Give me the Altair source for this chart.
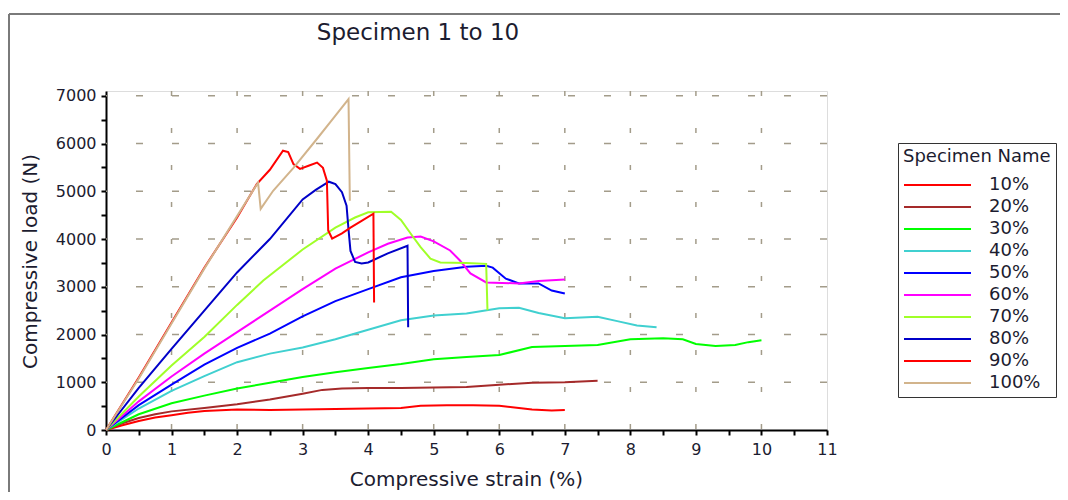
import altair as alt
import pandas as pd

TITLE = "Specimen 1 to 10"
X_TITLE = "Compressive strain (%)"
Y_TITLE = "Compressive load (N)"
LEGEND_TITLE = "Specimen Name"

NAMES = ["10%", "20%", "30%", "40%", "50%", "60%", "70%", "80%", "90%", "100%"]
COLORS = ["#ff0000", "#a52a2a", "#00ff00", "#40d0d0", "#0000ff",
          "#ff00ff", "#a0ff28", "#0000c8", "#ff0000", "#d2b48c"]

s10 = [0, 0.25, 0.5, 0.75, 1.0, 1.25, 1.5, 2.0, 2.5, 3.0, 3.5, 4.0, 4.5, 4.8, 5.2, 5.6, 6.0, 6.3, 6.5, 6.8, 7.0]
l10 = [0, 100, 190, 260, 310, 360, 400, 430, 420, 430, 440, 450, 460, 510, 520, 520, 510, 460, 430, 410, 420]

s20 = [0, 0.25, 0.5, 0.75, 1.0, 1.5, 2.0, 2.5, 3.0, 3.3, 3.6, 4.0, 4.5, 5.0, 5.5, 6.0, 6.5, 7.0, 7.5]
l20 = [0, 140, 250, 330, 390, 460, 540, 640, 760, 840, 870, 880, 880, 890, 900, 950, 990, 1000, 1030]

s30 = [0, 0.5, 1.0, 1.5, 2.0, 2.5, 3.0, 3.5, 4.0, 4.5, 5.0, 5.5, 6.0, 6.5, 7.0, 7.5, 8.0, 8.5, 8.8, 9.0, 9.3, 9.6, 9.8, 10.0]
l30 = [0, 330, 560, 720, 870, 990, 1110, 1210, 1300, 1380, 1480, 1530, 1570, 1740, 1760, 1780, 1900, 1920, 1900, 1800, 1760, 1780, 1840, 1880]

s40 = [0, 0.5, 1.0, 1.5, 2.0, 2.5, 3.0, 3.5, 4.0, 4.5, 5.0, 5.5, 6.0, 6.3, 6.6, 7.0, 7.5, 7.8, 8.1, 8.4]
l40 = [0, 450, 820, 1130, 1420, 1600, 1730, 1900, 2100, 2300, 2400, 2440, 2550, 2560, 2450, 2340, 2370, 2280, 2190, 2150]

s50 = [0, 0.5, 1.0, 1.5, 2.0, 2.5, 3.0, 3.5, 4.0, 4.5, 5.0, 5.5, 5.8, 5.9, 6.1, 6.3, 6.6, 6.8, 7.0]
l50 = [0, 520, 950, 1370, 1720, 2020, 2380, 2700, 2950, 3200, 3330, 3420, 3440, 3400, 3170, 3070, 3070, 2920, 2860]

s60 = [0, 0.5, 1.0, 1.5, 2.0, 2.5, 3.0, 3.5, 4.0, 4.3, 4.6, 4.8, 5.0, 5.25, 5.4, 5.56, 5.8, 6.3, 6.6, 7.0]
l60 = [0, 600, 1120, 1600, 2050, 2500, 2950, 3380, 3720, 3900, 4030, 4050, 3950, 3760, 3550, 3280, 3090, 3070, 3120, 3150]

s70 = [0, 0.5, 1.0, 1.5, 2.0, 2.4, 3.0, 3.5, 3.8, 4.0, 4.35, 4.5, 4.65, 4.8, 4.95, 5.1, 5.5, 5.8, 5.82]
l70 = [0, 700, 1350, 1950, 2620, 3130, 3780, 4240, 4450, 4560, 4570, 4400, 4110, 3830, 3590, 3510, 3500, 3480, 2510]

s80 = [0, 0.5, 1.0, 1.5, 2.0, 2.5, 3.0, 3.2, 3.4, 3.5, 3.6, 3.67, 3.7, 3.73, 3.8, 3.9, 4.0, 4.3, 4.6, 4.61]
l80 = [0, 880, 1700, 2500, 3300, 4000, 4830, 5030, 5200, 5150, 4980, 4700, 4200, 3750, 3520, 3490, 3510, 3700, 3860, 2150]

s90 = [0, 0.5, 1.0, 1.5, 2.0, 2.3, 2.5, 2.7, 2.78, 2.86, 2.96, 3.1, 3.22, 3.31, 3.37, 3.39, 3.45, 3.6, 3.73, 3.9, 4.08, 4.09]
l90 = [0, 1100, 2250, 3400, 4450, 5150, 5450, 5850, 5820, 5570, 5470, 5540, 5600, 5490, 5220, 4180, 4010, 4120, 4240, 4380, 4530, 2670]

s100 = [0, 0.5, 1.0, 1.5, 2.0, 2.32, 2.36, 2.55, 2.86, 3.22, 3.47, 3.7, 3.72]
l100 = [0, 1080, 2230, 3380, 4480, 5180, 4630, 5010, 5490, 6100, 6530, 6930, 4800]

STRAINS = [s10, s20, s30, s40, s50, s60, s70, s80, s90, s100]
LOADS = [l10, l20, l30, l40, l50, l60, l70, l80, l90, l100]

X_GRID = [1, 2, 3, 4, 5, 6, 7, 8, 9, 10]
Y_GRID = [1000, 2000, 3000, 4000, 5000, 6000, 7000]
X_TICKS = [i * 0.5 for i in range(23)]
Y_TICKS = [i * 500 for i in range(15)]

rows = []
for k, name in enumerate(NAMES):
    for i, (sx, ly) in enumerate(zip(STRAINS[k], LOADS[k])):
        rows.append({"name": name, "k": k, "i": i, "strain": sx, "load": ly})
df = pd.DataFrame(rows)

FONT = "DejaVu Sans"
TXT = "#1c1c30"

xscale = alt.Scale(domain=[0, 11], nice=False, zero=False)
yscale = alt.Scale(domain=[0, 7100], nice=False, zero=False)

xaxis = alt.Axis(values=X_TICKS, grid=False,
                 labelExpr="datum.value % 1 == 0 ? format(datum.value, 'd') : ''",
                 title=X_TITLE, titleX=360, titleY=55, titleBaseline="alphabetic",
                 titleFontSize=20, titleFontWeight="normal", titleFont=FONT, titleColor=TXT,
                 labelFontSize=16, labelFont=FONT, labelColor=TXT, labelPadding=6,
                 domainColor="black", domainWidth=2, tickColor="black", tickWidth=2,
                 tickSize=5, labelFlush=False, labelOverlap=False)
yaxis = alt.Axis(values=Y_TICKS, grid=False,
                 labelExpr="datum.value % 1000 == 0 ? format(datum.value, 'd') : ''",
                 title=Y_TITLE, titleX=-76, titleY=170, titleAngle=270, titleBaseline="middle",
                 titleAlign="center",
                 titleFontSize=20, titleFontWeight="normal", titleFont=FONT, titleColor=TXT,
                 labelFontSize=16, labelFont=FONT, labelColor=TXT, labelPadding=5,
                 domainColor="black", domainWidth=2, tickColor="black", tickWidth=2,
                 tickSize=5, labelFlush=False, labelOverlap=False)

vgrid = alt.Chart(pd.DataFrame({"g": X_GRID})).mark_rule(
    color="#a39c8a", strokeWidth=1.5, strokeDash=[5, 32]
).encode(x=alt.X("g:Q", scale=xscale, axis=xaxis))

hgrid = alt.Chart(pd.DataFrame({"g": Y_GRID})).mark_rule(
    color="#a39c8a", strokeWidth=1.5, strokeDash=[7, 29]
).encode(y=alt.Y("g:Q", scale=yscale, axis=yaxis))

lines = alt.Chart(df).mark_line(strokeWidth=2, interpolate="linear").encode(
    x=alt.X("strain:Q", scale=xscale, axis=xaxis),
    y=alt.Y("load:Q", scale=yscale, axis=yaxis),
    color=alt.Color("name:N", scale=alt.Scale(domain=NAMES, range=COLORS), sort=NAMES,
                    legend=alt.Legend(title=LEGEND_TITLE, orient="none", direction="vertical",
                                      legendX=792, legendY=52,
                                      symbolType="M-1.6,0H11.8", symbolSize=100,
                                      symbolStrokeWidth=2, labelOffset=68,
                                      labelFontSize=18, labelFont=FONT, labelColor=TXT,
                                      titleFontSize=18, titleFont=FONT, titleColor=TXT,
                                      titleFontWeight="normal", titlePadding=10,
                                      strokeColor="#333333", padding=5, rowPadding=4,
                                      fillColor="white")),
    detail="k:N",
    order="i:Q",
)

dummy = pd.DataFrame({"t": [TITLE]})
title = alt.Chart(dummy).mark_text(
    font=FONT, fontSize=23, color=TXT, align="center", baseline="alphabetic"
).encode(text="t:N", x=alt.value(312), y=alt.value(-51))

frame_top = alt.Chart(dummy).mark_rule(color="#7a7a7a", strokeWidth=2).encode(
    x=alt.value(-97), x2=alt.value(1000), y=alt.value(-77), y2=alt.value(-77))
frame_left = alt.Chart(dummy).mark_rule(color="#7a7a7a", strokeWidth=2).encode(
    x=alt.value(-97), x2=alt.value(-97), y=alt.value(-77), y2=alt.value(420))

chart = alt.layer(vgrid, hgrid, lines, title, frame_top, frame_left).properties(
    width=721, height=339,
    autosize=alt.AutoSizeParams(type="none"),
    padding={"left": 98, "top": 83, "right": 233, "bottom": 62},
).configure_view(stroke="black", strokeWidth=1.5).configure(background="white")

chart.save("out.html", embed_options={"renderer": "svg", "actions": False})
